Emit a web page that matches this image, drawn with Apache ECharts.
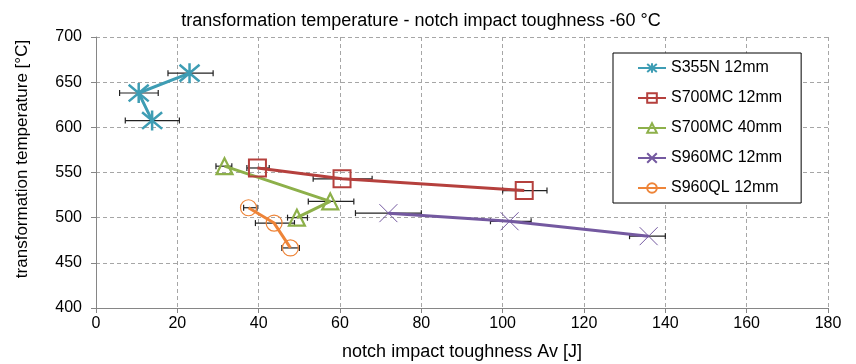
<!DOCTYPE html>
<html>
<head>
<meta charset="utf-8">
<script src="https://cdn.jsdelivr.net/npm/echarts@6/dist/echarts.min.js"></script>
<style>html,body{margin:0;padding:0;background:#fff}#c{width:856px;height:364px}</style>
</head>
<body>
<div id="c"></div>
<script>
// ---- data ----
var seriesNames = ['S355N 12mm', 'S700MC 12mm', 'S700MC 40mm', 'S960MC 12mm', 'S960QL 12mm'];
var s355nX = [23.0, 10.5, 13.8];
var s355nY = [660, 638, 607.5];
var s355nErr = [[17.7, 28.8], [5.8, 15.3], [7.2, 20.5]];
var s700mc12X = [39.7, 60.5, 105.3];
var s700mc12Y = [555, 543, 530];
var s700mc12Err = [[37.1, 42.6], [53.4, 67.9], [100.0, 110.9]];
var s700mc40X = [31.6, 57.6, 49.4];
var s700mc40Y = [557, 518, 500];
var s700mc40Err = [[29.5, 33.4], [52.2, 63.4], [47.1, 52.0]];
var s960mcX = [71.9, 101.7, 135.9];
var s960mcY = [505, 496, 479.5];
var s960mcErr = [[63.8, 80.0], [97.0, 107.0], [131.2, 140.0]];
var s960qlX = [37.5, 43.8, 47.8];
var s960qlY = [511, 494, 466.5];
var s960qlErr = [[36.3, 39.6], [39.2, 48.8], [45.7, 50.0]];
var xTicks = [0, 20, 40, 60, 80, 100, 120, 140, 160, 180];
var yTicks = [400, 450, 500, 550, 600, 650, 700];

// ---- build ----
var FONT = '"Liberation Sans", Arial, sans-serif';
function pts(xs, ys) { return xs.map(function (x, i) { return [x, ys[i]]; }); }
function errData(err, ys) { return err.map(function (e, i) { return [e[0], e[1], ys[i]]; }); }
function errSeries(err, ys) {
  return {
    type: 'custom', silent: true, z: 1,
    data: errData(err, ys),
    renderItem: function (params, api) {
      var lo = api.coord([api.value(0), api.value(2)]);
      var hi = api.coord([api.value(1), api.value(2)]);
      var h = 3;
      var st = { stroke: '#222', lineWidth: 1.2 };
      return {
        type: 'group', children: [
          { type: 'line', shape: { x1: lo[0], y1: lo[1], x2: hi[0], y2: hi[1] }, style: st },
          { type: 'line', shape: { x1: lo[0], y1: lo[1] - h, x2: lo[0], y2: lo[1] + h }, style: st },
          { type: 'line', shape: { x1: hi[0], y1: hi[1] - h, x2: hi[0], y2: hi[1] + h }, style: st }
        ]
      };
    }
  };
}
var colors = ['#3E9DB4', '#B5403D', '#8DB04A', '#7459A0', '#EE8438'];
var starPath = 'path://M0,0L10,10M10,0L0,10M5,-1L5,11';
var crossPath = 'path://M0,0L10,10M10,0L0,10';
function lineSeries(name, xs, ys, color, symbol, size, bw, fill) {
  return {
    name: name, type: 'line', z: 3, data: pts(xs, ys),
    symbol: symbol, symbolSize: size, showAllSymbol: true,
    lineStyle: { color: color, width: 3 },
    itemStyle: { color: fill, borderColor: color, borderWidth: bw },
    emphasis: { disabled: true }
  };
}
var series = [
  errSeries(s355nErr, s355nY),
  errSeries(s700mc12Err, s700mc12Y),
  errSeries(s700mc40Err, s700mc40Y),
  errSeries(s960mcErr, s960mcY),
  errSeries(s960qlErr, s960qlY),
  lineSeries(seriesNames[0], s355nX, s355nY, colors[0], starPath, [20, 20], 2.5, 'rgba(0,0,0,0)'),
  lineSeries(seriesNames[1], s700mc12X, s700mc12Y, colors[1], 'rect', 17, 2, 'rgba(255,255,255,0)'),
  lineSeries(seriesNames[2], s700mc40X, s700mc40Y, colors[2], 'triangle', 16, 2.2, 'rgba(255,255,255,0)'),
  lineSeries(seriesNames[3], s960mcX, s960mcY, colors[3], crossPath, [18, 18], 1, 'rgba(0,0,0,0)'),
  lineSeries(seriesNames[4], s960qlX, s960qlY, colors[4], 'circle', 16, 1.2, 'rgba(255,255,255,0)')
];

var chart = echarts.init(document.getElementById('c'), null, { renderer: 'canvas' });
chart.setOption({
  animation: false,
  textStyle: { fontFamily: FONT },
  title: {
    text: 'transformation temperature - notch impact toughness -60 °C',
    left: 416, top: 7, textAlign: 'center',
    textStyle: { fontFamily: FONT, fontSize: 18, fontWeight: 'normal', color: '#000' }
  },
  grid: { left: 96, right: 28, top: 37, bottom: 56, containLabel: false },
  xAxis: {
    type: 'value', min: xTicks[0], max: xTicks[xTicks.length - 1], interval: 20,
    axisLine: { show: true, lineStyle: { color: '#868686', width: 1 } },
    axisTick: { show: true, length: 5, lineStyle: { color: '#868686' } },
    axisLabel: { margin: 8, fontSize: 16, color: '#000', fontFamily: FONT },
    splitLine: { show: true, lineStyle: { color: '#A6A6A6', type: [4, 3], width: 1 } }
  },
  yAxis: {
    type: 'value', min: yTicks[0], max: yTicks[yTicks.length - 1], interval: 50,
    axisLine: { show: true, lineStyle: { color: '#868686', width: 1 } },
    axisTick: { show: true, length: 5, lineStyle: { color: '#868686' } },
    axisLabel: { margin: 14, fontSize: 16, color: '#000', fontFamily: FONT },
    splitLine: { show: true, lineStyle: { color: '#A6A6A6', type: [4, 3], width: 1 } }
  },
  legend: {
    data: seriesNames, orient: 'vertical', left: 613, top: 53,
    itemWidth: 28, itemHeight: 12, itemGap: 14,
    padding: [7, 19, 7, 24],
    borderColor: '#000', borderWidth: 1, backgroundColor: '#fff',
    textStyle: { fontFamily: FONT, fontSize: 16, color: '#000' },
    selectedMode: false
  },
  graphic: [
    { type: 'text', x: 22, y: 159, rotation: Math.PI / 2,
      style: { text: 'transformation temperature [°C]', font: '17px ' + FONT, fill: '#000', align: 'center', verticalAlign: 'middle' } },
    { type: 'text', x: 462, y: 352,
      style: { text: 'notch impact toughness Av [J]', font: '18px ' + FONT, fill: '#000', align: 'center', verticalAlign: 'middle' } }
  ],
  series: series
});
</script>
</body>
</html>
